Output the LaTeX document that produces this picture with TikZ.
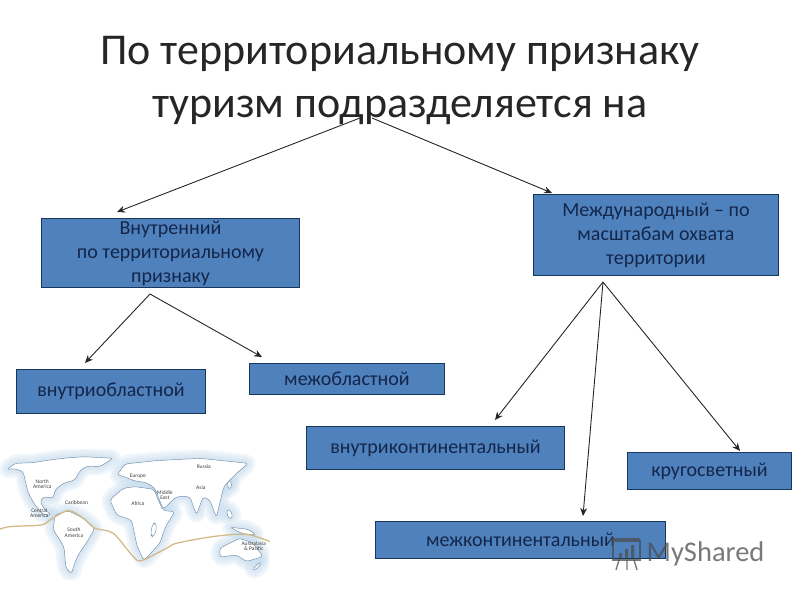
\documentclass[tikz,border=0pt]{standalone}
\usepackage{fontspec}
\setmainfont{Carlito}
\usetikzlibrary{arrows.meta}
\definecolor{boxblue}{HTML}{4F81BD}
\definecolor{boxline}{HTML}{17375E}
\definecolor{boxtext}{HTML}{14264A}
\definecolor{maphalo}{HTML}{BFD7EA}
\definecolor{mapline}{HTML}{6F8CA8}
\definecolor{routeline}{HTML}{D2B98A}
\tikzset{
x=1pt, y=-1pt, % picture is measured in pixels, from the top left
blockbox/.style={draw=boxline, fill=boxblue, text=boxtext, line width=0.9pt, inner sep=0pt, align=center, font=\fontsize{20}{24}\selectfont}, % every blue box
branch/.style={-{Stealth[length=8pt, width=7pt]}, line width=0.9pt, black!85}, % the arrows
halo/.style={draw=maphalo, draw opacity=0.22, line join=round, rounded corners=3pt}, % soft sea round the coast
land/.style={draw=mapline, line width=0.45pt, fill=white, line join=round, rounded corners=3pt}, % continents
maplabel/.style={font=\fontsize{5.5}{5.5}\selectfont, text=black!75, inner sep=0pt, align=center}, % map names
}
\newcommand{\coastN}{(20,90) -- (45,70) -- (100,68) -- (150,60) -- (190,55) -- (250,50) -- (340,55) -- (300,80) -- (262,78) -- (240,92) -- (225,120) -- (190,130) -- (165,150) -- (160,175) -- (130,170) -- (120,185) -- (135,210) -- (155,225) -- (130,225) -- (105,195) -- (85,160) -- (75,120) -- (70,95) -- (40,85) -- cycle}
\newcommand{\coastS}{(165,225) -- (205,212) -- (250,235) -- (285,265) -- (262,305) -- (235,345) -- (222,375) -- (215,402) -- (198,385) -- (192,320) -- (160,270) -- cycle}
\newcommand{\coastA}{(330,180) -- (370,145) -- (405,140) -- (462,148) -- (475,180) -- (490,212) -- (525,215) -- (497,260) -- (480,310) -- (432,362) -- (412,320) -- (395,240) -- (350,225) -- cycle}
\newcommand{\coastE}{(352,105) -- (375,72) -- (470,62) -- (600,55) -- (745,70) -- (705,105) -- (672,140) -- (660,190) -- (650,232) -- (630,180) -- (610,170) -- (590,225) -- (570,170) -- (530,170) -- (490,208) -- (465,145) -- (440,128) -- (400,122) -- (380,112) -- cycle}
\newcommand{\coastO}{(660,325) -- (720,295) -- (760,310) -- (790,350) -- (740,365) -- (710,345) -- (660,352) -- cycle}
\newcommand{\coastI}{(458,252) -- (468,248) -- (470,270) -- (460,292) -- (452,285) -- cycle (684,205) -- (700,225) -- (692,240) -- (680,222) -- cycle (690,262) -- (745,268) -- (770,285) -- (730,282) -- cycle (688,118) -- (698,135) -- (688,150) -- (682,135) -- cycle (770,375) -- (785,365) -- (775,385) -- (758,392) -- cycle}
\begin{document}
\begin{tikzpicture}
    \useasboundingbox (0,0) rectangle (800,600);
    \node[font=\fontsize{44}{53}\selectfont, align=center, text=black!85, inner sep=0pt] (title) at (400,80) {По территориальному признаку\\туризм подразделяется на};

    \node[blockbox, minimum width=258, minimum height=69] (inner) at (170.5,253) {Внутренний\\по территориальному\\признаку};
    \node[blockbox, minimum width=245, minimum height=81] (world) at (656,235) {Международный – по\\масштабам охвата\\территории};
    \node[blockbox, minimum width=189, minimum height=44] (region) at (111,391.5) {внутриобластной};
    \node[blockbox, minimum width=195, minimum height=31] (interreg) at (347,379) {межобластной};
    \node[blockbox, minimum width=258, minimum height=43] (withincont) at (435.5,448) {внутриконтинентальный};
    \node[blockbox, minimum width=164, minimum height=37] (around) at (709.5,471) {кругосветный};
    \node[blockbox, minimum width=290, minimum height=37] (intercont) at (520.5,540) {межконтинентальный};

    % free ends of the arrows
    \coordinate (apexL) at (360,118);
    \coordinate (apexR) at (372,118);
    \coordinate (innerIn) at (117,212);
    \coordinate (worldIn) at (552,193);
    \coordinate (innerOut) at (150,294);
    \coordinate (regionIn) at (85,363);
    \coordinate (interregIn) at (262,357);
    \coordinate (worldOut) at (603,282);
    \coordinate (withincontIn) at (495,420);
    \coordinate (intercontIn) at (583,516);
    \coordinate (aroundIn) at (740,451);

    \draw[branch] (apexL) -- (innerIn);
    \draw[branch] (apexR) -- (worldIn);
    \draw[branch] (innerOut) -- (regionIn);
    \draw[branch] (innerOut) -- (interregIn);
    \draw[branch] (worldOut) -- (withincontIn);
    \draw[branch] (worldOut) -- (intercontIn);
    \draw[branch] (worldOut) -- (aroundIn);

    % world map, in coordinates of three units per pixel
    \begin{scope}[shift={(0,440)}, x=0.333pt, y=-0.333pt]
        \clip (0,30) rectangle (810,420);
        \foreach \w in {18,13,8,4} {
            \draw[halo, line width=\w pt] \coastN;
            \draw[halo, line width=\w pt] \coastS;
            \draw[halo, line width=\w pt] \coastA;
            \draw[halo, line width=\w pt] \coastE;
            \draw[halo, line width=\w pt] \coastO;
            \draw[halo, line width=\w pt] \coastI;
        }
        \draw[land] \coastN;
        \draw[land] \coastS;
        \draw[land] \coastA;
        \draw[land] \coastE;
        \draw[land] \coastO;
        \draw[land] \coastI;
        \draw[routeline, line width=1.3pt, line join=round] plot[smooth, tension=0.5] coordinates {(0,268) (30,260) (125,255) (150,240) (205,212) (250,235) (285,265) (340,280) (400,350) (425,362) (500,325) (530,310) (640,290) (740,283) (810,305)};
        \node[maplabel] (namerica) at (127,132) {North\\America};
        \node[maplabel] (caribbean) at (230,188) {Caribbean};
        \node[maplabel] (camerica) at (118,220) {Central\\America};
        \node[maplabel] (samerica) at (222,278) {South\\America};
        \node[maplabel] (africa) at (414,190) {Africa};
        \node[maplabel] (europe) at (414,108) {Europe};
        \node[maplabel] (russia) at (612,80) {Russia};
        \node[maplabel] (asia) at (603,143) {Asia};
        \node[maplabel] (mideast) at (495,165) {Middle\\East};
        \node[maplabel] (pacific) at (762,318) {Australasia\\\& Pacific};
    \end{scope}

    % watermark over the last box
    \begin{scope}[draw=black!70, opacity=0.75, line width=1.4pt]
        \draw (613,541) rectangle (640,560);
        \draw (610,539) -- (640,539);
        \draw (619,560) -- (616,570) (627,560) -- (627,570) (634,560) -- (637,570);
        \fill[black!70] (619,553) rectangle (622,558) (625,549) rectangle (628,558) (631,545) rectangle (634,558);
        \node[font=\fontsize{28.5}{31}\selectfont, text=black!70, inner sep=0pt, anchor=west] (mark) at (646,554) {MyShared};
    \end{scope}
\end{tikzpicture}
\end{document}
